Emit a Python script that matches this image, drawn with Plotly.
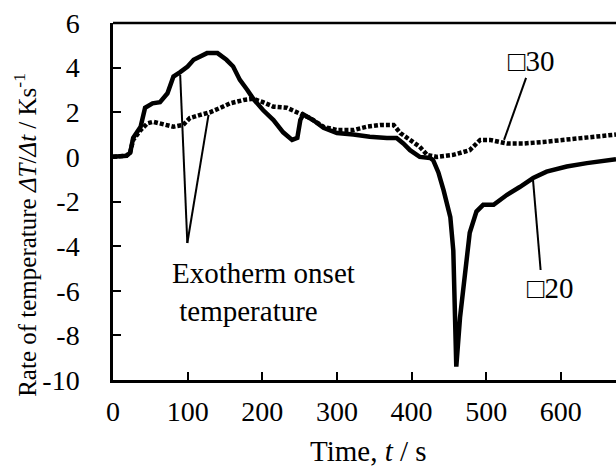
import plotly.graph_objects as go

# ---- data ----
time_20 = [0, 10, 18, 23, 27, 37, 43, 53, 63, 73, 81, 90, 100, 108, 126, 140, 152, 161, 170, 180,
           188, 201, 215, 228, 240, 247, 251, 255, 268, 282, 300, 322, 344, 367, 380, 389, 398, 411,
           425, 429, 436, 443, 452, 456, 458, 460, 465, 472, 478, 487, 496, 510, 528, 545, 563, 581,
           608, 635, 674]
rate_20 = [0.0, 0.0, 0.05, 0.18, 0.85, 1.35, 2.2, 2.4, 2.45, 2.85, 3.6, 3.8, 4.05, 4.35, 4.65, 4.65,
           4.35, 4.05, 3.45, 3.0, 2.6, 2.1, 1.65, 1.1, 0.76, 0.85, 1.65, 1.9, 1.65, 1.3, 1.07, 1.0, 0.9,
           0.85, 0.85, 0.6, 0.3, 0.0, -0.05, -0.15, -0.7, -1.5, -2.7, -4.2, -6.4, -9.4, -7.2, -4.9, -3.4,
           -2.45, -2.15, -2.15, -1.7, -1.35, -0.95, -0.66, -0.43, -0.28, -0.1]

time_30 = [0, 10, 18, 23, 27, 37, 46, 54, 68, 81, 94, 103, 117, 130, 144, 157, 175, 188, 201, 215,
           233, 251, 264, 282, 300, 322, 340, 358, 376, 385, 398, 411, 421, 434, 456, 478, 492, 505,
           528, 550, 577, 603, 635, 674]
rate_30 = [0.0, 0.0, 0.05, 0.2, 0.76, 1.2, 1.5, 1.57, 1.43, 1.35, 1.43, 1.74, 1.88, 2.0, 2.2, 2.4,
           2.55, 2.6, 2.45, 2.25, 2.2, 1.95, 1.74, 1.35, 1.2, 1.2, 1.35, 1.43, 1.43, 1.07, 0.76, 0.45,
           0.09, 0.0, 0.09, 0.3, 0.76, 0.76, 0.6, 0.6, 0.67, 0.76, 0.85, 1.0]

x_ticks = [0, 100, 200, 300, 400, 500, 600]
y_ticks = [-10, -8, -6, -4, -2, 0, 2, 4, 6]
y_tick_text = ["-10", "-8", "-6", "-4", "-2", "0", "2", "4", "6"]

label_20 = "\u25a120"
label_30 = "\u25a130"
onset_text = "Exotherm onset<br>\u00a0temperature"

# pointer lines: (from_x, from_y, to_x, to_y)
onset_from = (99.6, -3.86)
onset_to = [(90, 3.68), (128, 1.88)]
ptr_30 = (553.5, 3.54, 524, 0.76)
ptr_20 = (573, -5.07, 562.8, -1.03)

FONT = "Liberation Serif"

fig = go.Figure()
fig.add_trace(go.Scatter(x=time_30, y=rate_30, mode="lines",
                         line=dict(color="black", width=4.5, dash="4px,2px"),
                         showlegend=False, hoverinfo="skip"))
fig.add_trace(go.Scatter(x=time_20, y=rate_20, mode="lines",
                         line=dict(color="black", width=4.5),
                         showlegend=False, hoverinfo="skip"))

shapes = [dict(type="line", xref="paper", yref="paper", x0=0, x1=1, y0=1, y1=1,
               line=dict(color="black", width=2.5))]
for (tx, ty) in onset_to:
    shapes.append(dict(type="line", xref="x", yref="y", x0=onset_from[0], y0=onset_from[1],
                       x1=tx, y1=ty, line=dict(color="black", width=2)))
for p in (ptr_30, ptr_20):
    shapes.append(dict(type="line", xref="x", yref="y", x0=p[0], y0=p[1], x1=p[2], y1=p[3],
                       line=dict(color="black", width=2)))

af = dict(family=FONT, size=29, color="black")
tick_f = dict(family=FONT, size=28, color="black")
ytitle_f = dict(family=FONT, size=25, color="black")
ann = [
    dict(x=76.8, y=-4.4, xref="x", yref="y", text=onset_text, showarrow=False,
         xanchor="left", yanchor="top", align="left", font=af),
    dict(x=561, y=4.3, xref="x", yref="y", text=label_30, showarrow=False,
         xanchor="center", yanchor="middle", font=af),
    dict(x=585.6, y=-5.87, xref="x", yref="y", text=label_20, showarrow=False,
         xanchor="center", yanchor="middle", font=af),
    dict(x=-0.174, y=0.408, xref="paper", yref="paper", textangle=-90,
         text="Rate of temperature <i>\u0394T</i>/<i>\u0394t</i> / Ks<sup>-1</sup>",
         showarrow=False, xanchor="center", yanchor="middle", font=ytitle_f),
    dict(x=0.507, y=-0.2, xref="paper", yref="paper",
         text="Time, <i>t</i> / s", showarrow=False, xanchor="center", yanchor="middle", font=af),
]

fig.update_layout(
    width=616, height=475,
    margin=dict(l=113, r=0, t=23, b=95, autoexpand=False),
    paper_bgcolor="white", plot_bgcolor="white",
    font=tick_f,
    annotations=ann,
    shapes=shapes,
    xaxis=dict(range=[0, 674], tickvals=x_ticks, ticks="inside", ticklen=8, tickwidth=1.5,
               tickcolor="black", showline=True, linecolor="black", linewidth=2.5,
               showgrid=False, zeroline=False, ticklabelstandoff=5, automargin=False,
               tickfont=tick_f),
    yaxis=dict(range=[-10, 6], tickvals=y_ticks, ticktext=y_tick_text, ticks="inside", ticklen=8,
               tickwidth=1.5, tickcolor="black", showline=True, linecolor="black", linewidth=2.5,
               showgrid=False, zeroline=False, ticklabelstandoff=25, automargin=False,
               tickfont=tick_f),
)

fig.write_html("out.html", config={"displayModeBar": False},
               post_script="document.body.style.margin='0';")
